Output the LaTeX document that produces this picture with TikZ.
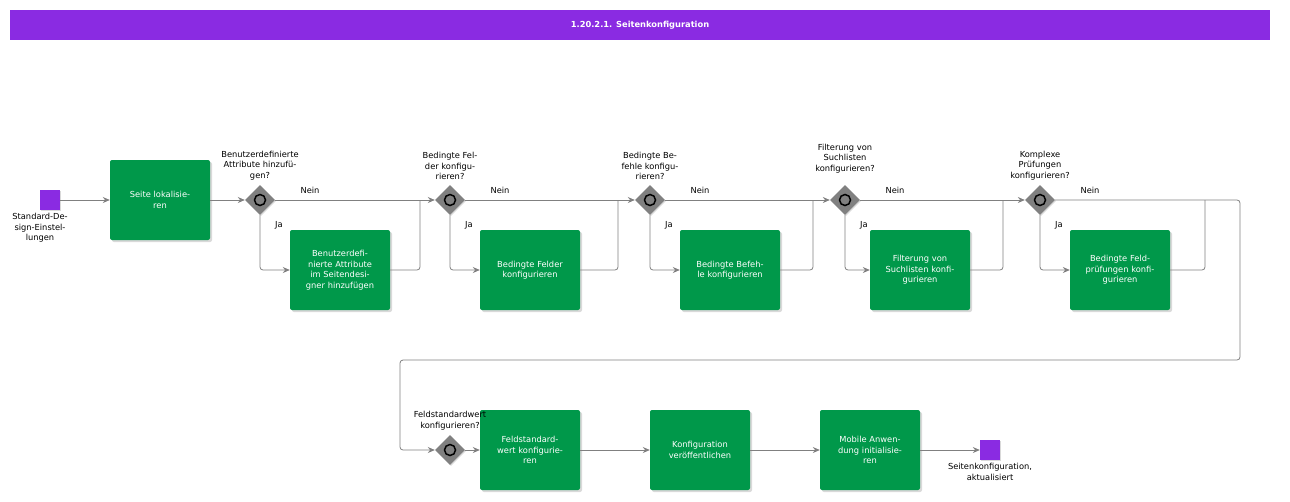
\documentclass[tikz,border=0pt]{standalone}
\usepackage{fontspec}
\setmainfont{DejaVu Sans}
\usetikzlibrary{shapes.geometric,arrows.meta,shadows}
\definecolor{purp}{HTML}{8A2BE2}
\definecolor{grn}{HTML}{00984A}
\definecolor{gw}{HTML}{808080}
\definecolor{ln}{HTML}{808080}
\begin{document}
\begin{tikzpicture}[x=1pt,y=-1pt,font=\fontsize{8.3}{10.5}\selectfont,
 task/.style={draw=none,fill=grn,rounded corners=2pt,minimum width=100pt,minimum height=80pt,text width=92pt,align=center,text=white,drop shadow={opacity=0.3,shadow xshift=2pt,shadow yshift=-2pt}},
 gate/.style={diamond,fill=gw,minimum width=30pt,minimum height=30pt,inner sep=0pt,drop shadow={opacity=0.3,shadow xshift=1pt,shadow yshift=-1pt}},
 ev/.style={fill=purp,minimum size=20pt,inner sep=0pt,drop shadow={opacity=0.3,shadow xshift=1pt,shadow yshift=-1pt}},
 lab/.style={align=center,inner sep=1pt},
 flow/.style={draw=ln,line width=0.8pt,rounded corners=3pt,-{Stealth[length=7pt,width=6pt]}},
 line/.style={draw=ln,line width=0.8pt,rounded corners=3pt}]
\useasboundingbox (0,0) rectangle (1290,501);
\node[fill=purp,minimum width=1260pt,minimum height=30pt,text=white,font=\fontsize{8.3}{10}\selectfont\bfseries] (title) at (640,25) {1.20.2.1. Seitenkonfiguration};
\newcommand{\gwmark}[1]{\draw[line width=1.5pt] (#1) circle (5.5pt);}
% nodes
\node[ev] (s) at (50,200) {};
\node[lab,below] at (40,212) {Standard-De-\\sign-Einstel-\\lungen};
\node[task] (t1) at (160,200) {Seite lokalisie-\\ren};
\node[gate] (g1) at (260,200) {}; \gwmark{g1}
\node[task] (t2) at (340,270) {Benutzerdefi-\\nierte Attribute\\im Seitendesi-\\gner hinzufügen};
\node[gate] (g2) at (450,200) {}; \gwmark{g2}
\node[task] (t3) at (530,270) {Bedingte Felder\\konfigurieren};
\node[gate] (g3) at (650,200) {}; \gwmark{g3}
\node[task] (t4) at (730,270) {Bedingte Befeh-\\le konfigurieren};
\node[gate] (g4) at (845,200) {}; \gwmark{g4}
\node[task] (t5) at (920,270) {Filterung von\\Suchlisten konfi-\\gurieren};
\node[gate] (g5) at (1040,200) {}; \gwmark{g5}
\node[task] (t6) at (1120,270) {Bedingte Feld-\\prüfungen konfi-\\gurieren};
\node[gate] (g6) at (450,450) {}; \gwmark{g6}
\node[task] (t7) at (530,450) {Feldstandard-\\wert konfigurie-\\ren};
\node[task] (t8) at (700,450) {Konfiguration\\veröffentlichen};
\node[task] (t9) at (870,450) {Mobile Anwen-\\dung initialisie-\\ren};
\node[ev] (e) at (990,450) {};
\node[lab,below] at (990,462) {Seitenkonfiguration,\\aktualisiert};
% question labels
\node[lab,above] at (260,181) {Benutzerdefinierte\\Attribute hinzufü-\\gen?};
\node[lab,above] at (450,181) {Bedingte Fel-\\der konfigu-\\rieren?};
\node[lab,above] at (650,181) {Bedingte Be-\\fehle konfigu-\\rieren?};
\node[lab,above] at (845,174) {Filterung von\\Suchlisten\\konfigurieren?};
\node[lab,above] at (1040,181) {Komplexe\\Prüfungen\\konfigurieren?};
\node[lab,above] at (450,431) {Feldstandardwert\\konfigurieren?};
% flows
\draw[flow] (s) -- (t1);
\draw[flow] (t1) -- (g1);
\foreach \g/\t/\n/\nx in {g1/t2/g2/420,g2/t3/g3/618,g3/t4/g4/813,g4/t5/g5/1003}{
 \draw[flow] (\g.east) -- (\n.west);
 \draw[flow] (\g.south) |- (\t.west);
 \draw[line] (\t.east) -| (\nx,200);
}
\draw[flow] (g5.south) |- (t6.west);
\draw[line] (t6.east) -| (1205,200);
\coordinate (c1) at (1240,360);
\draw[flow] (g5.east) -| (c1) -| (400,450) -- (g6.west);
\draw[flow] (g6) -- (t7);
\draw[flow] (t7) -- (t8);
\draw[flow] (t8) -- (t9);
\draw[flow] (t9) -- (e);
% Nein/Ja labels
\foreach \x in {260,450,650,845,1040}{
 \node[lab] at (\x+50,190) {Nein};
 \node[lab] at (\x+19,225) {Ja};
}
\end{tikzpicture}
\end{document}
